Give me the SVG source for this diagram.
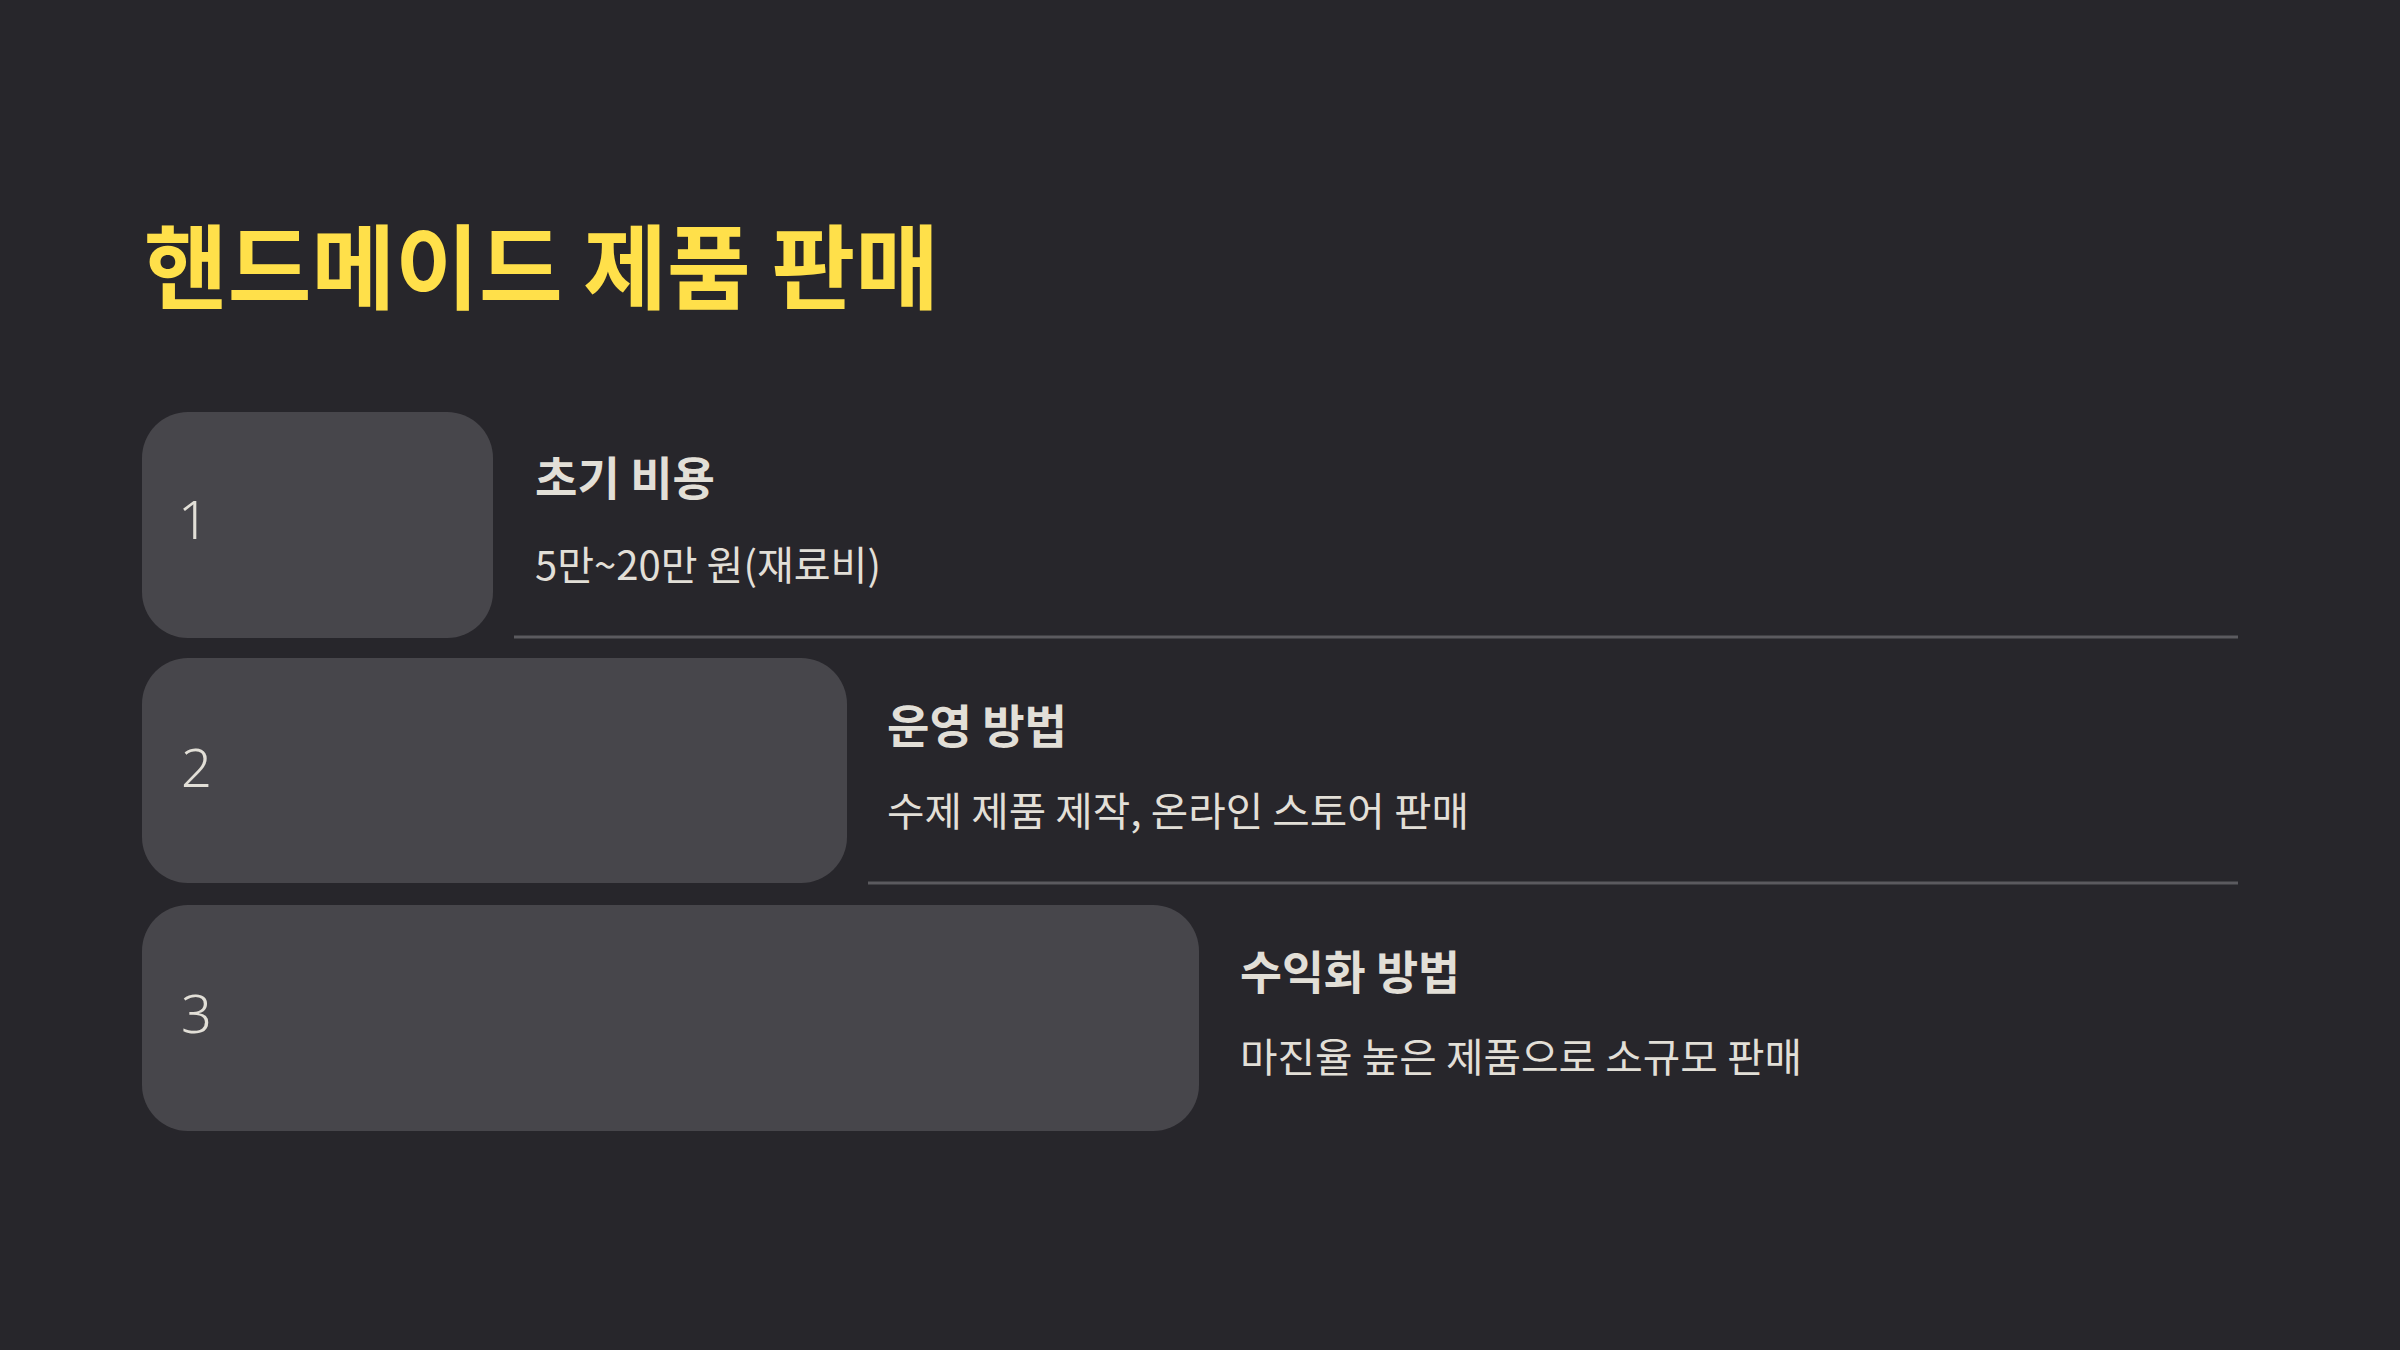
<svg xmlns="http://www.w3.org/2000/svg" width="2400" height="1350" viewBox="0 0 2400 1350">
<style>
.bg{fill:#27262b}
.box{fill:#47464b}
.num{font-family:"Noto Sans","DejaVu Sans",sans-serif;font-weight:300;font-size:54px;fill:#e2dfd7}
.title{font-family:"Noto Sans CJK KR",sans-serif;font-weight:700;font-size:92px;fill:#ffe04a}
.head{font-family:"Noto Sans CJK KR",sans-serif;font-weight:700;font-size:46px;fill:#e2dfd7}
.desc{font-family:"Noto Sans CJK KR",sans-serif;font-weight:400;font-size:40px;fill:#e2dfd7}
.sep{stroke:#5b5a5f;stroke-width:3;fill:none}
</style>
<rect class="bg" x="0" y="0" width="2400" height="1350"/>
<text id="title" class="title" x="144" y="302" textLength="795" lengthAdjust="spacingAndGlyphs">핸드메이드 제품 판매</text>
<g id="connectors">
<line class="sep" x1="514" y1="637" x2="2238" y2="637"/>
<line class="sep" x1="868" y1="883" x2="2238" y2="883"/>
</g>
<g id="node1">
<rect class="box" x="142" y="412" width="351" height="226" rx="46"/>
<text class="num" x="178" y="539">1</text>
<text class="head" x="535" y="495" textLength="180" lengthAdjust="spacingAndGlyphs">초기 비용</text>
<text class="desc" x="535" y="580" textLength="346" lengthAdjust="spacingAndGlyphs">5만~20만 원(재료비)</text>
</g>
<g id="node2">
<rect class="box" x="142" y="658" width="705" height="225" rx="46"/>
<text class="num" x="181" y="787">2</text>
<text class="head" x="887" y="743" textLength="180" lengthAdjust="spacingAndGlyphs">운영 방법</text>
<text class="desc" x="887" y="826" textLength="582" lengthAdjust="spacingAndGlyphs">수제 제품 제작, 온라인 스토어 판매</text>
</g>
<g id="node3">
<rect class="box" x="142" y="905" width="1057" height="226" rx="46"/>
<text class="num" x="181" y="1033">3</text>
<text class="head" x="1240" y="989" textLength="220" lengthAdjust="spacingAndGlyphs">수익화 방법</text>
<text class="desc" x="1240" y="1072" textLength="562" lengthAdjust="spacingAndGlyphs">마진율 높은 제품으로 소규모 판매</text>
</g>
</svg>
